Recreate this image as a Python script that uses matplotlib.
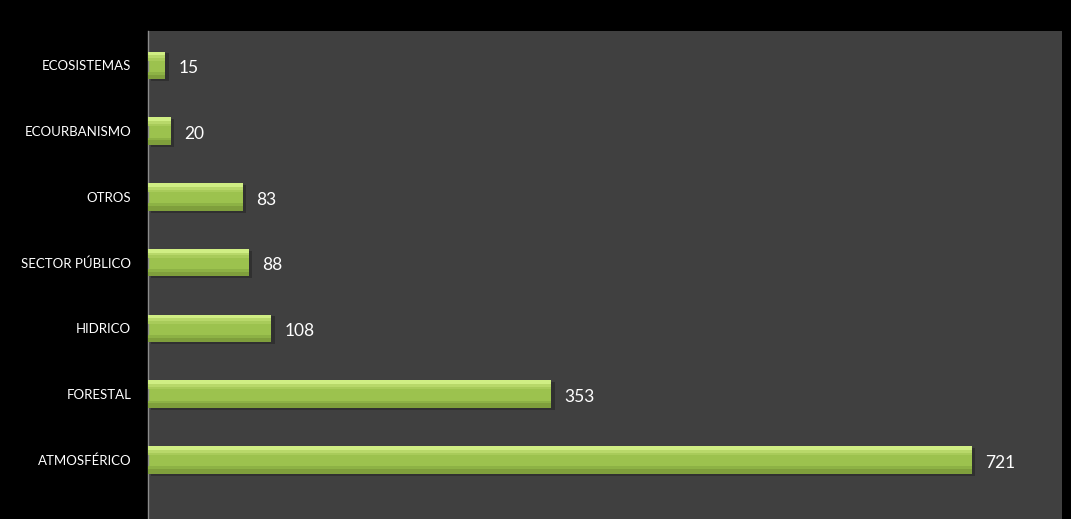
import matplotlib
matplotlib.use("Agg")
import matplotlib.pyplot as plt

categories = ["ATMOSFÉRICO", "FORESTAL", "HIDRICO", "SECTOR PÚBLICO",
              "OTROS", "ECOURBANISMO", "ECOSISTEMAS"]
values = [721, 353, 108, 88, 83, 20, 15]

plt.rcParams["font.family"] = ["Lato", "DejaVu Sans"]

fig = plt.figure(figsize=(10.71, 5.19), dpi=100, facecolor="black")
ax = fig.add_axes([0.1382, 0.0, 0.8534, 0.940])
ax.set_facecolor("#404040")

pos = list(range(len(categories)))
h = 0.42

# shadow
ax.barh([p - 0.03 for p in pos], values, height=h, left=[3] * len(values),
        color="#303030", zorder=1)
# main bar
ax.barh(pos, values, height=h, color="#9cc24e", zorder=2)
# darker lower edge
ax.barh([p - h / 2 + 0.035 for p in pos], values, height=0.07,
        color="#7f9f3c", zorder=3)
ax.barh([p - h / 2 + 0.09 for p in pos], values, height=0.04,
        color="#8db245", zorder=3)
# bright upper edge
ax.barh([p + h / 2 - 0.03 for p in pos], values, height=0.06,
        color="#d0ee84", zorder=3)
ax.barh([p + h / 2 - 0.08 for p in pos], values, height=0.04,
        color="#b8d86a", zorder=3)
ax.barh([p + h / 2 - 0.12 for p in pos], values, height=0.04,
        color="#a8cb5a", zorder=3)

for p, v in zip(pos, values):
    ax.annotate(str(v), (v, p), xytext=(9.5, -2), textcoords="offset points",
                va="center", ha="left", color="white", fontsize=12.5)

ax.set_xlim(0, 800)
ax.set_ylim(-0.9, 6.52)
ax.set_yticks(pos)
ax.set_yticklabels(categories, color="white", fontsize=9.5)
ax.tick_params(axis="y", length=0, pad=12)
ax.set_xticks([])

for s in ["top", "right", "bottom"]:
    ax.spines[s].set_visible(False)
ax.spines["left"].set_color("#8c8c8c")
ax.spines["left"].set_linewidth(1)

fig.savefig("out.png", dpi=100, facecolor="black")
